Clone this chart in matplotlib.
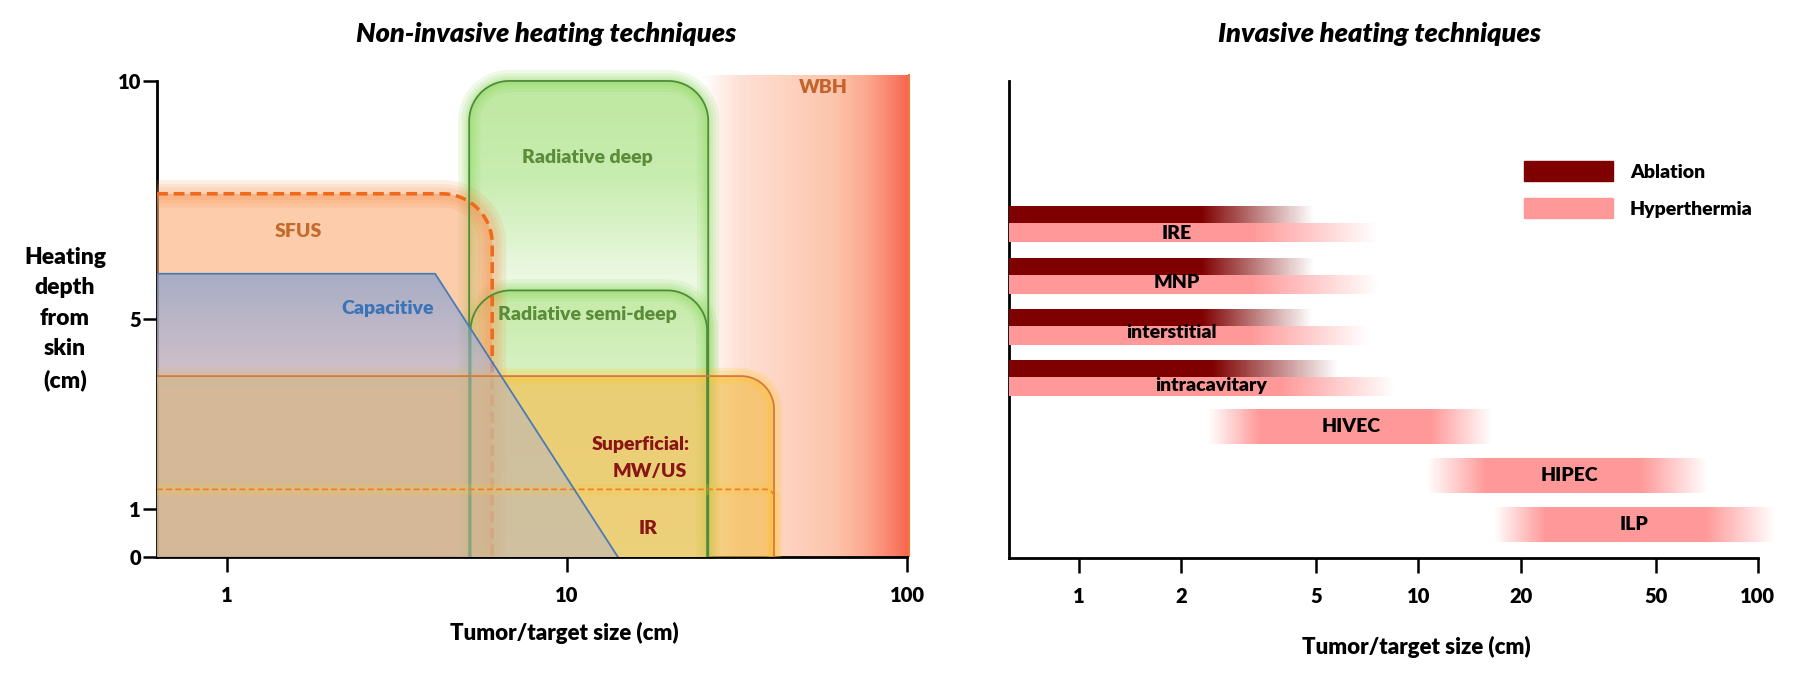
import numpy as np
import matplotlib
matplotlib.use("Agg")
import matplotlib.pyplot as plt
from matplotlib.colors import LinearSegmentedColormap, to_rgba
from matplotlib.patches import Polygon, Patch

plt.rcParams['font.family'] = ['Lato', 'DejaVu Sans']
plt.rcParams['font.weight'] = 'heavy'

# ---- non-invasive techniques: reach in tumour size (cm) and depth (cm)
size_min = 0.622
wbh_size = [25.0, 101.5]
wbh_depth = 10.13
rad_deep_size = [5.15, 26.0]
rad_deep_depth = 10.0
rad_semi_size = [5.2, 25.8]
rad_semi_depth = 5.6
sfus_size = 6.02
sfus_depth = 7.63
cap_size = [size_min, 4.09, 14.1]
cap_depth = [5.95, 5.95, 0.0]
sup_size = 40.6
sup_depth = 3.8
ir_size = 40.6
ir_depth = 1.42

# ---- invasive techniques: size ranges (cm)
pair_names = ['IRE', 'MNP', 'interstitial', 'intracavitary']
abl_solid = [2.29, 2.29, 2.29, 2.47]
abl_end = [4.92, 4.92, 4.85, 5.79]
hyp_solid = [3.25, 3.25, 3.2, 3.96]
hyp_end = [7.55, 7.6, 7.1, 8.5]
single_names = ['HIVEC', 'HIPEC', 'ILP']
single_start = [2.41, 10.6, 16.7]
single_solid = [3.41, 15.8, 23.6]
single_solid_end = [10.9, 45.2, 70.2]
single_end = [16.4, 71.0, 112.0]

ABL = '#7f0000'
HYP = '#ff9999'

fig = plt.figure(figsize=(18.01, 6.77), dpi=100)
ax1 = fig.add_axes([0.0872, 0.1773, 0.4189, 0.7242])
ax2 = fig.add_axes([0.5602, 0.1758, 0.4273, 0.7253])
ax1.set_xscale('log')
ax2.set_xscale('log')
ax1.set_xlim(size_min, 103)
ax2.set_xlim(size_min, 115)
ax1.set_ylim(0, 10.3)
ax2.set_ylim(0, 10.3)


def px_scale(ax):
    pos = ax.get_position()
    w = pos.width * fig.get_figwidth() * fig.dpi
    h = pos.height * fig.get_figheight() * fig.dpi
    x0, x1 = ax.get_xlim()
    y0, y1 = ax.get_ylim()
    return w / np.log10(x1 / x0), h / (y1 - y0)


ppd, ppu = px_scale(ax1)


def box_path(x0, x1, top, r, round_left=True):
    # open outline: up the left side, over the top, down the right side
    l0, l1 = np.log10(x0), np.log10(x1)
    rx, ry = r / ppd, r / ppu
    lx, ly = [l0], [0.0]
    if round_left:
        a = np.linspace(np.pi, np.pi / 2, 20)
        lx += list(l0 + rx + rx * np.cos(a))
        ly += list(top - ry + ry * np.sin(a))
    else:
        lx.append(l0)
        ly.append(top)
    a = np.linspace(np.pi / 2, 0, 20)
    lx += list(l1 - rx + rx * np.cos(a))
    ly += list(top - ry + ry * np.sin(a))
    lx.append(l1)
    ly.append(0.0)
    return 10 ** np.array(lx), np.array(ly)


def clip_patch(ax, xs, ys):
    p = Polygon(np.column_stack([xs, ys]), closed=True, facecolor='none',
                edgecolor='none', transform=ax.transData)
    ax.add_patch(p)
    return p


def vgrad(ax, x0, x1, y0, y1, stops, clip, z):
    ys = np.linspace(y0, y1, 121)
    cm = LinearSegmentedColormap.from_list('g', stops)
    vals = np.linspace(0, 1, 120)[:, None]
    m = ax.pcolormesh([x0, x1], ys, vals, cmap=cm, vmin=0, vmax=1,
                      shading='flat', zorder=z, antialiased=False, edgecolors='none')
    m.set_clip_path(clip)


def hgrad(ax, xs, alphas, y0, y1, color, z=3, n=300):
    lx = np.log10(xs)
    edges = np.logspace(lx[0], lx[-1], n + 1)
    mids = np.log10(np.sqrt(edges[:-1] * edges[1:]))
    a = np.interp(mids, lx, alphas)
    cm = LinearSegmentedColormap.from_list('h', [to_rgba(color, 0), to_rgba(color, 1)])
    ax.pcolormesh(edges, [y0, y1], a[None, :], cmap=cm, vmin=0, vmax=1,
                  shading='flat', zorder=z, antialiased=False, edgecolors='none')


def glow(ax, xs, ys, color, z, widths=(16, 11, 7), alpha=0.13):
    for w in widths:
        ax.plot(xs, ys, color=color, lw=w, alpha=alpha, zorder=z,
                solid_capstyle='butt', solid_joinstyle='round')


# ---------------- left panel ----------------
# WBH
wx = np.logspace(np.log10(wbh_size[0]), np.log10(wbh_size[1]), 301)
wl = np.log10(wx)
pos = (wl - wl[0]) / (wl[-1] - wl[0])
wbh_cm = LinearSegmentedColormap.from_list('wbh', [
    (0.0, '#ffffff'), (0.18, '#fde0d4'), (0.45, '#fdd0bc'), (0.65, '#fcc3aa'),
    (0.8, '#fba68c'), (0.92, '#f9806a'), (1.0, '#f6654c')])
ax1.pcolormesh(wx, [0, wbh_depth], ((pos[:-1] + pos[1:]) / 2)[None, :], cmap=wbh_cm,
               vmin=0, vmax=1, shading='flat', zorder=1, antialiased=False, edgecolors='none')
ax1.plot([wbh_size[1]] * 2, [0, wbh_depth], color='#f07a3c', lw=1.5, zorder=1.5)

# radiative deep
dx, dy = box_path(rad_deep_size[0], rad_deep_size[1], rad_deep_depth, 40)
cp = clip_patch(ax1, dx, dy)
vgrad(ax1, rad_deep_size[0], rad_deep_size[1], 0, rad_deep_depth,
      [(0, '#ecf8e4'), (0.58, '#ecf8e4'), (0.8, '#c8ecb0'), (1.0, '#bee8a0')], cp, 2)
glow(ax1, dx, dy, '#8cd75a', 2.1, widths=(16, 11, 7, 4), alpha=0.14)

# radiative semi-deep
sx, sy = box_path(rad_semi_size[0], rad_semi_size[1], rad_semi_depth, 40)
cp = clip_patch(ax1, sx, sy)
vgrad(ax1, rad_semi_size[0], rad_semi_size[1], 0, rad_semi_depth,
      [(0, '#e4f7d8'), (0.6, '#dcf3cc'), (1.0, '#c4eaa6')], cp, 3)
glow(ax1, sx, sy, '#8cd75a', 3.1, widths=(16, 11, 7, 4), alpha=0.14)

# SFUS
fx, fy = box_path(size_min, sfus_size, sfus_depth, 50, round_left=False)
ax1.fill(fx, fy, color='#faaa73', alpha=0.6, lw=0, zorder=4)
glow(ax1, fx[1:], fy[1:], '#f7904a', 4.1, widths=(20, 14, 9), alpha=0.14)
ax1.plot(fx[1:], fy[1:], color='#f06a1e', lw=2.6, ls=(0, (3, 1.6)), zorder=4.5)

# superficial MW/US
ux, uy = box_path(size_min, sup_size, sup_depth, 33, round_left=False)
ax1.fill(ux, uy, color='#f3b840', alpha=0.62, lw=0, zorder=5)
glow(ax1, ux[1:], uy[1:], '#ffc830', 5.1, widths=(12, 8), alpha=0.18)

# green outlines show through the superficial layer
ax1.plot(dx, dy, color='#4f8c3a', lw=1.3, zorder=5.5)
ax1.plot(sx, sy, color='#4f8c3a', lw=1.3, zorder=5.5)

# capacitive
cx = cap_size + [size_min]
cy = cap_depth + [0.0]
cp = clip_patch(ax1, cx, cy)
vgrad(ax1, size_min, cap_size[-1], 0, cap_depth[0],
      [(0, to_rgba('#b8b4bf', 0.55)), (0.59, to_rgba('#b8b4bf', 0.55)),
       (0.7, to_rgba('#a6b2e0', 0.58)), (1.0, to_rgba('#7098d6', 0.6))], cp, 6)

# IR
ix, iy = box_path(size_min, ir_size, ir_depth, 8, round_left=False)
glow(ax1, ix[1:], iy[1:], '#ffc830', 6.5, widths=(8,), alpha=0.2)

# outlines
ax1.plot(ux[1:], uy[1:], color='#d9783c', lw=1.3, zorder=7)
ax1.plot(ix[1:], iy[1:], color='#f07a30', lw=1.2, ls=(0, (3.5, 2)), zorder=7)
ax1.plot(cap_size, cap_depth, color='#4a7bb7', lw=1.3, zorder=7.5)

lab = dict(fontsize=14, fontweight='heavy', ha='center', va='center', zorder=10)
ax1.text(1.62, 6.83, 'SFUS', color='#c46a2c', **lab)
ax1.text(2.97, 5.21, 'Capacitive', color='#3b73b9', **lab)
ax1.text(11.5, 8.40, 'Radiative deep', color='#5a8c3a', **lab)
ax1.text(11.5, 5.10, 'Radiative semi-deep', color='#5a8c3a', **lab)
ax1.text(56.6, 9.87, 'WBH', color='#c2642c', **lab)
lab_r = dict(lab, ha='right')
ax1.text(22.9, 2.37, 'Superficial:', color='#8a1515', **lab_r)
ax1.text(22.5, 1.79, 'MW/US', color='#8a1515', **lab_r)
ax1.text(17.3, 0.59, 'IR', color='#8a1515', **lab)

# ---------------- right panel ----------------
for i, name in enumerate(pair_names):
    ya = 7.20 - 1.077 * i
    yh = ya - 0.378
    hgrad(ax2, [size_min, abl_solid[i], abl_end[i]], [1, 1, 0], ya - 0.178, ya + 0.178, ABL)
    hgrad(ax2, [size_min, hyp_solid[i], hyp_end[i]], [1, 1, 0], yh - 0.2, yh + 0.2, HYP)

for j, name in enumerate(single_names):
    yc = 2.76 - 1.03 * j
    hgrad(ax2, [single_start[j], single_solid[j], single_solid_end[j], single_end[j]],
          [0, 1, 1, 0], yc - 0.365, yc + 0.365, HYP)

lab_x = [1.94, 1.94, 1.88, 2.45, 6.32, 27.9, 43.3]
lab_y = [6.81, 5.77, 4.74, 3.61, 2.75, 1.72, 0.71]
for name, x, y in zip(pair_names + single_names, lab_x, lab_y):
    ax2.text(x, y, name, color='black', **lab)

ax2.legend(handles=[Patch(color=ABL, label='Ablation'), Patch(color=HYP, label='Hyperthermia')],
           loc='upper left', bbox_to_anchor=(0.8462, 0.7622), bbox_transform=fig.transFigure,
           frameon=False, fontsize=14, handlelength=4.6, handleheight=1.2,
           handletextpad=0.85, labelspacing=0.9, borderpad=0, borderaxespad=0)

# ---------------- axes styling ----------------
for ax in (ax1, ax2):
    for s in ('top', 'right'):
        ax.spines[s].set_visible(False)
    for s in ('left', 'bottom'):
        ax.spines[s].set_linewidth(2)
    ax.spines['left'].set_bounds(0, 10)
    ax.spines['bottom'].set_bounds(size_min, 100)
    ax.minorticks_off()
    ax.tick_params(axis='x', length=11, width=1.8, pad=10, labelsize=14.5)
    ax.tick_params(axis='y', length=10, width=1.8, pad=1.5, labelsize=14.5)
    ax.set_facecolor('none')

ax1.set_xticks([1, 10, 100], ['1', '10', '100'])
ax1.set_yticks([0, 1, 5, 10], ['0', '1', '5', '10'])
ax2.set_xticks([1, 2, 5, 10, 20, 50, 100], ['1', '2', '5', '10', '20', '50', '100'])
ax2.set_yticks([])
ax2.minorticks_off()

fig.text(546 / 1801, 1 - 34 / 677, 'Non-invasive heating techniques', fontsize=19.5,
         style='italic', fontweight='heavy', ha='center', va='center')
fig.text(1379 / 1801, 1 - 34 / 677, 'Invasive heating techniques', fontsize=19.5,
         style='italic', fontweight='heavy', ha='center', va='center')
fig.text(564 / 1801, 1 - 633 / 677, 'Tumor/target size (cm)', fontsize=16,
         fontweight='heavy', ha='center', va='center')
fig.text(1416 / 1801, 1 - 647 / 677, 'Tumor/target size (cm)', fontsize=16,
         fontweight='heavy', ha='center', va='center')
fig.text(65 / 1801, 1 - 319 / 677, 'Heating\ndepth\nfrom\nskin\n(cm)', fontsize=16.5,
         fontweight='heavy', ha='center', va='center', multialignment='center', linespacing=1.55)

fig.savefig('out.png', dpi=100)
